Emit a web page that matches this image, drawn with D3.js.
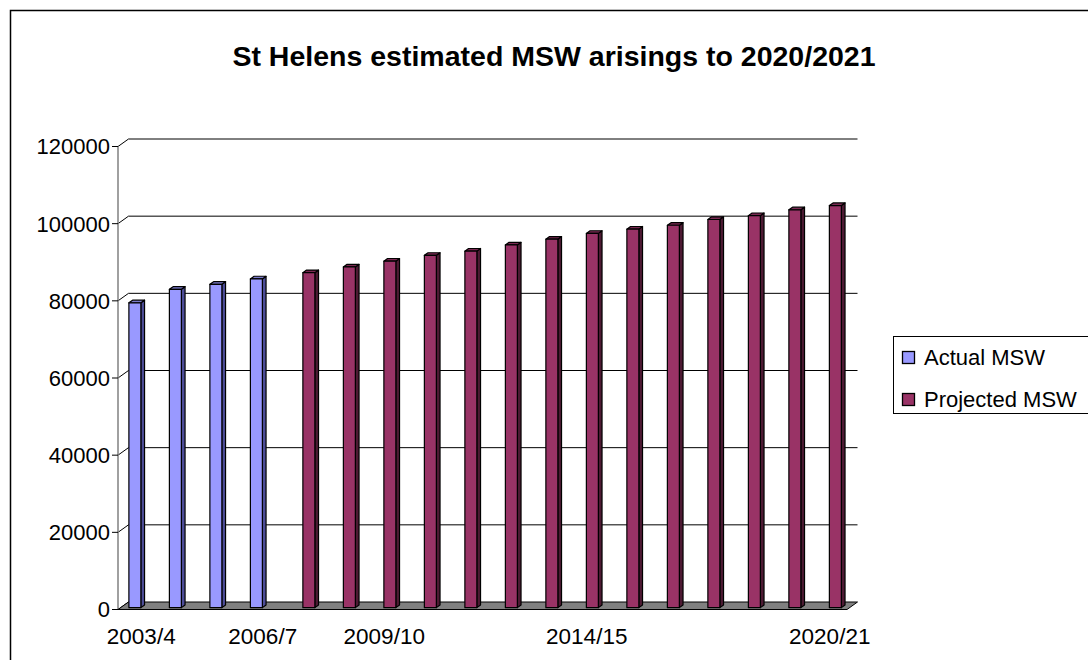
<!DOCTYPE html>
<html lang="en">
<head>
  <meta charset="utf-8" />
  <title>St Helens estimated MSW arisings</title>
  <script src="https://unpkg.com/d3@7.9.0/dist/d3.min.js"></script>
  <style>
    html,body{margin:0;padding:0;background:#fff;}
    svg{display:block;font-family:"Liberation Sans",Arial,sans-serif;}
  </style>
</head>
<body>
<svg id="svg" width="1088" height="660"></svg>
<script>
// ----- data -----
const categories = ['2003/4','2004/5','2005/6','2006/7','2007/8','2008/9','2009/10','2010/11','2011/12',
                    '2012/13','2013/14','2014/15','2015/16','2016/17','2017/18','2018/19','2019/20','2020/21'];
const seriesNames = ['Actual MSW','Projected MSW'];
const actual    = [79000, 82500, 83800, 85200, null, null, null, null, null, null, null, null, null, null, null, null, null, null];
const projected = [null, null, null, null, 86800, 88300, 89800, 91300, 92400, 94000, 95500, 97000, 98100, 99100, 100600, 101600, 103100, 104200];
const tickLabels = ['2003/4','2006/7','2009/10','2014/15','2020/21'];
const yTicks = [0, 20000, 40000, 60000, 80000, 100000, 120000];
const colors = {
  'Actual MSW':    {front:'#9999ff', top:'#7a7acc', side:'#4d4d99'},
  'Projected MSW': {front:'#993366', top:'#7a2952', side:'#4d1a33'}
};

const svg = d3.select('#svg');

// chart border (only top & left visible)
svg.append('path').attr('d','M10.5,660V10.5H1088').attr('fill','none').attr('stroke','#000').attr('stroke-width',1.5);

// title
svg.append('text').attr('x',554).attr('y',66).attr('text-anchor','middle')
  .attr('font-size',28.5).attr('font-weight','bold').text('St Helens estimated MSW arisings to 2020/2021');

// ----- 3d geometry -----
const DX = 10.5, DY = -7.5;          // wall depth offset
const f0 = 0.25, f1 = 0.6;           // bar depth (fraction of wall depth)
const xL = 118, xR = 847;
const x = d3.scaleBand().domain(categories).range([xL, xR]);
const xs = d3.scaleBand().domain(seriesNames).range([0, x.bandwidth()]).paddingOuter(0.69);
const y = d3.scaleLinear().domain([0, 120000]).range([609.5, 146.5]);

const g = svg.append('g');

// back wall gridlines
g.selectAll('line.grid').data(yTicks.slice(1)).enter().append('line')
  .attr('x1', xL + DX).attr('x2', xR + DX)
  .attr('y1', d => y(d) + DY).attr('y2', d => y(d) + DY)
  .attr('stroke', '#000').attr('stroke-width', 1);
// side wall gridlines
g.selectAll('line.side').data(yTicks).enter().append('line')
  .attr('x1', xL).attr('x2', xL + DX)
  .attr('y1', d => y(d)).attr('y2', d => y(d) + DY)
  .attr('stroke', '#000').attr('stroke-width', 1);
// front axis line
g.append('line').attr('x1', xL).attr('x2', xL).attr('y1', y(0)).attr('y2', y(120000))
  .attr('stroke', '#808080').attr('stroke-width', 1.5);
// ticks
g.selectAll('line.tick').data(yTicks).enter().append('line')
  .attr('x1', xL - 6).attr('x2', xL)
  .attr('y1', d => y(d)).attr('y2', d => y(d))
  .attr('stroke', '#000').attr('stroke-width', 1);
// tick labels
g.selectAll('text.ylab').data(yTicks).enter().append('text')
  .attr('x', xL - 8).attr('y', d => y(d)).attr('dy', '0.36em')
  .attr('text-anchor', 'end').attr('font-size', 22).text(d => d);

// floor
g.append('path')
  .attr('d', `M${xL},${y(0)}L${xR},${y(0)}L${xR + DX},${y(0) + DY}L${xL + DX},${y(0) + DY}Z`)
  .attr('fill', '#808080').attr('stroke', '#000').attr('stroke-width', 1);

// bars
const bars = [];
categories.forEach((c, i) => {
  if (actual[i] != null) bars.push({cat: c, s: 'Actual MSW', v: actual[i]});
  if (projected[i] != null) bars.push({cat: c, s: 'Projected MSW', v: projected[i]});
});
const bg = g.selectAll('g.bar').data(bars).enter().append('g');
bg.each(function(d) {
  const sel = d3.select(this);
  const x0 = x(d.cat) + xs(d.s), w = xs.bandwidth();
  const yt = y(d.v), yb = y(0);
  const c = colors[d.s];
  const P = (px, py, f) => [px + f * DX, py + f * DY];
  const poly = pts => 'M' + pts.map(p => p.join(',')).join('L') + 'Z';
  // side
  sel.append('path').attr('d', poly([P(x0 + w, yt, f0), P(x0 + w, yt, f1), P(x0 + w, yb, f1), P(x0 + w, yb, f0)]))
    .attr('fill', c.side).attr('stroke', '#000').attr('stroke-width', 1.2).attr('stroke-linejoin', 'round');
  // top
  sel.append('path').attr('d', poly([P(x0, yt, f0), P(x0 + w, yt, f0), P(x0 + w, yt, f1), P(x0, yt, f1)]))
    .attr('fill', c.top).attr('stroke', '#000').attr('stroke-width', 1.2).attr('stroke-linejoin', 'round');
  // front
  sel.append('path').attr('d', poly([P(x0, yt, f0), P(x0 + w, yt, f0), P(x0 + w, yb, f0), P(x0, yb, f0)]))
    .attr('fill', c.front).attr('stroke', '#000').attr('stroke-width', 1.2).attr('stroke-linejoin', 'round');
});

// category labels
g.selectAll('text.xlab').data(tickLabels).enter().append('text')
  .attr('x', d => x(d) + x.bandwidth() / 2 + 3).attr('y', 644)
  .attr('text-anchor', 'middle').attr('font-size', 22.5).text(d => d);

// legend
const lg = svg.append('g');
lg.append('rect').attr('x', 893.5).attr('y', 336.5).attr('width', 200).attr('height', 77)
  .attr('fill', '#fff').attr('stroke', '#000').attr('stroke-width', 1);
const li = lg.selectAll('g.li').data(seriesNames).enter().append('g')
  .attr('transform', (d, i) => `translate(0,${i * 42})`);
li.append('rect').attr('x', 902.5).attr('y', 351.5).attr('width', 12).attr('height', 12)
  .attr('fill', d => colors[d].front).attr('stroke', '#000').attr('stroke-width', 1.3);
li.append('text').attr('x', 924).attr('y', 365).attr('font-size', 22).text(d => d);
</script>
</body>
</html>
